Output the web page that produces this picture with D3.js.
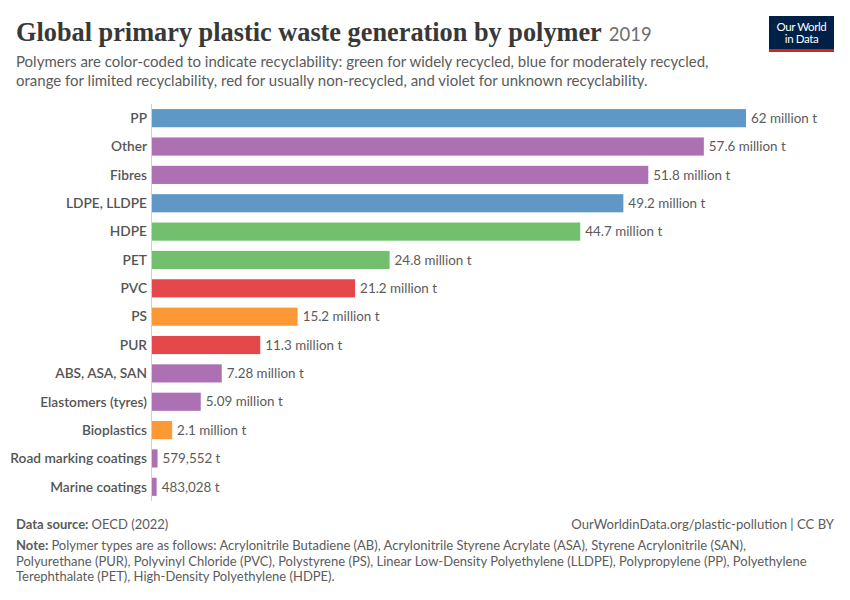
<!DOCTYPE html>
<html>
<head>
<meta charset="utf-8">
<script src="https://cdn.jsdelivr.net/npm/d3@7"></script>
<style>
  body { margin: 0; background: #fff; }
  svg { display: block; font-family: Lato, "Noto Sans", sans-serif; }
</style>
</head>
<body>
<svg id="viz"></svg>
<script>
// ---------------------------
// Data
// ---------------------------

const polymers = ["PP", "Other", "Fibres", "LDPE, LLDPE", "HDPE", "PET", "PVC", "PS", "PUR",
    "ABS, ASA, SAN", "Elastomers (tyres)", "Bioplastics", "Road marking coatings", "Marine coatings"];

const waste = [62e6, 57.6e6, 51.8e6, 49.2e6, 44.7e6, 24.8e6, 21.2e6, 15.2e6, 11.3e6,
    7.28e6, 5.09e6, 2.1e6, 579552, 483028];

const recyclability = ["moderate", "unknown", "unknown", "moderate", "wide", "wide", "non", "limited", "non",
    "unknown", "unknown", "limited", "unknown", "unknown"];

const colorKeys = ["wide", "moderate", "limited", "non", "unknown"];
const colorValues = ["#72bf6d", "#5f97c7", "#fd9935", "#e5484a", "#ad71b3"];

const noteLines = [
    "Polymer types are as follows: Acrylonitrile Butadiene (AB), Acrylonitrile Styrene Acrylate (ASA), Styrene Acrylonitrile (SAN),",
    "Polyurethane (PUR), Polyvinyl Chloride (PVC), Polystyrene (PS), Linear Low-Density Polyethylene (LLDPE), Polypropylene (PP), Polyethylene",
    "Terephthalate (PET), High-Density Polyethylene (HDPE)."
];

// ---------------------------
// Create SVG
// ---------------------------

const width = 850;
const height = 600;

const svg = d3.select("#viz")
    .attr("width", width)
    .attr("height", height)
    .attr("viewBox", `0 0 ${width} ${height}`);

const margin = {left: 152, right: 104, top: 104, bottom: 100};

const x = d3.scaleLinear()
    .domain([0, d3.max(waste)])
    .range([margin.left, width - margin.right]);

const y = d3.scaleBand()
    .domain(polymers)
    .range([104, 501])
    .paddingInner(0.36)
    .paddingOuter(0.18);

const color = d3.scaleOrdinal()
    .domain(colorKeys)
    .range(colorValues);

const fmt = v => v >= 1e6
    ? d3.format(".3~r")(v / 1e6) + " million t"
    : d3.format(",")(v) + " t";

// ---------------------------
// Header
// ---------------------------

const title = svg.append("text")
    .attr("x", 16)
    .attr("y", 41)
    .attr("font-family", "'Liberation Serif', 'DejaVu Serif', serif")
    .attr("font-weight", "bold")
    .attr("font-size", 26.3)
    .attr("fill", "#383838");

title.append("tspan").text("Global primary plastic waste generation by polymer");
title.append("tspan")
    .attr("dx", 7)
    .attr("font-family", "Lato, sans-serif")
    .attr("font-weight", "normal")
    .attr("font-size", 18.5)
    .attr("fill", "#6e6e6e")
    .text("2019");

svg.selectAll(".subtitle")
    .data([
        "Polymers are color-coded to indicate recyclability: green for widely recycled, blue for moderately recycled,",
        "orange for limited recyclability, red for usually non-recycled, and violet for unknown recyclability."
    ])
    .join("text")
    .attr("class", "subtitle")
    .attr("x", 16)
    .attr("y", (d, i) => 67 + i * 18.5)
    .attr("font-size", 15)
    .attr("fill", "#5b5b5b")
    .text(d => d);

// logo
const logo = svg.append("g").attr("transform", "translate(769,16)");
logo.append("rect").attr("width", 65).attr("height", 36).attr("fill", "#002147");
logo.append("rect").attr("y", 33).attr("width", 65).attr("height", 3).attr("fill", "#ce261e");
logo.selectAll("text")
    .data(["Our World", "in Data"])
    .join("text")
    .attr("x", 32.5)
    .attr("y", (d, i) => 15 + i * 12)
    .attr("text-anchor", "middle")
    .attr("font-size", 11.5)
    .attr("letter-spacing", -0.4)
    .attr("fill", "#fff")
    .text(d => d);

// ---------------------------
// Bars
// ---------------------------

svg.append("line")
    .attr("x1", margin.left - 0.5)
    .attr("x2", margin.left - 0.5)
    .attr("y1", 104)
    .attr("y2", 501)
    .attr("stroke", "#d0d0d0")
    .attr("stroke-width", 1);

const rows = svg.append("g")
    .selectAll("g")
    .data(polymers.map((p, i) => ({name: p, value: waste[i], key: recyclability[i]})))
    .join("g");

rows.append("rect")
    .attr("x", x(0))
    .attr("y", d => y(d.name))
    .attr("width", d => Math.max(x(d.value) - x(0), 1))
    .attr("height", y.bandwidth())
    .attr("fill", d => color(d.key));

rows.append("text")
    .attr("x", margin.left - 5)
    .attr("y", d => y(d.name) + y.bandwidth() / 2)
    .attr("dy", "0.35em")
    .attr("text-anchor", "end")
    .attr("font-size", 13.7)
    .attr("font-weight", 600)
    .attr("fill", "#555")
    .text(d => d.name);

rows.append("text")
    .attr("x", d => x(d.value) + 5)
    .attr("y", d => y(d.name) + y.bandwidth() / 2)
    .attr("dy", "0.35em")
    .attr("font-size", 13.4)
    .attr("fill", "#5b5b5b")
    .text(d => fmt(d.value));

// ---------------------------
// Footer
// ---------------------------

const source = svg.append("text")
    .attr("x", 16)
    .attr("y", 529)
    .attr("font-size", 13)
    .attr("fill", "#5b5b5b");
source.append("tspan").attr("font-weight", "bold").text("Data source: ");
source.append("tspan").text("OECD (2022)");

svg.append("text")
    .attr("x", 834)
    .attr("y", 529)
    .attr("text-anchor", "end")
    .attr("font-size", 13.1)
    .attr("fill", "#5b5b5b")
    .text("OurWorldinData.org/plastic-pollution | CC BY");

svg.selectAll(".note")
    .data(noteLines)
    .join("text")
    .attr("class", "note")
    .attr("x", 16)
    .attr("y", (d, i) => 550 + i * 15.5)
    .attr("font-size", 13)
    .attr("fill", "#5b5b5b")
    .each(function(d, i) {
        const t = d3.select(this);
        if (i === 0) t.append("tspan").attr("font-weight", "bold").text("Note: ");
        t.append("tspan").text(d);
    });
</script>
</body>
</html>
